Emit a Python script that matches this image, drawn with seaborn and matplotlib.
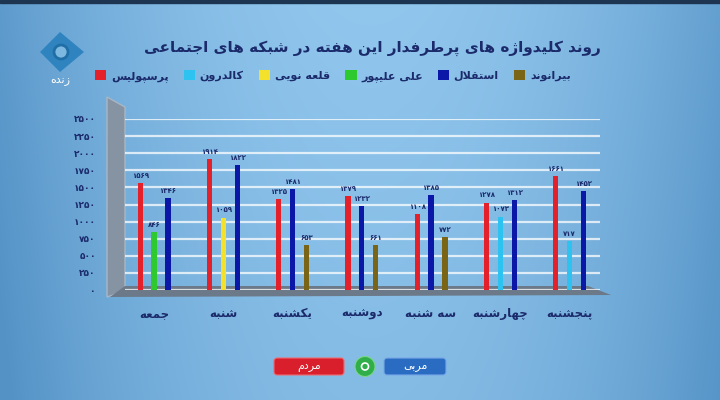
import matplotlib
matplotlib.use("Agg")
import matplotlib.pyplot as plt
from matplotlib.patches import Polygon, Rectangle, FancyBboxPatch, Circle, Patch
import numpy as np
import pandas as pd
import seaborn as sns

days = ["جمعه", "شنبه", "یکشنبه", "دوشنبه", "سه شنبه", "چهارشنبه", "پنجشنبه"]
series = ["پرسپولیس", "کالدرون", "قلعه نویی", "علی علیپور", "استقلال", "بیرانوند"]
persepolis = [1569, 1914, 1325, 1379, 1108, 1278, 1661]
kaldron = [np.nan, np.nan, np.nan, np.nan, np.nan, 1073, 717]
ghalehnoei = [np.nan, 1059, np.nan, np.nan, np.nan, np.nan, np.nan]
alipour = [846, np.nan, np.nan, np.nan, np.nan, np.nan, np.nan]
esteghlal = [1346, 1822, 1481, 1232, 1385, 1312, 1452]
beiranvand = [np.nan, np.nan, 653, 661, 772, np.nan, np.nan]
yticks = [0, 250, 500, 750, 1000, 1250, 1500, 1750, 2000, 2250, 2500]
title = "روند کلیدواژه های پرطرفدار این هفته در شبکه های اجتماعی"

colors = ["#e4212b", "#2cc3f0", "#f4e12c", "#2ec92e", "#0b17a6", "#7a6416"]
navy = "#1b2a6b"

# --- tiny persian shaper (matplotlib has no complex text layout) ---
FORMS = {
    "ا": ("\uFE8D", "\uFE8E", None, None), "آ": ("\uFE81", "\uFE82", None, None),
    "ب": ("\uFE8F", "\uFE90", "\uFE91", "\uFE92"), "پ": ("\uFB56", "\uFB57", "\uFB58", "\uFB59"),
    "ت": ("\uFE95", "\uFE96", "\uFE97", "\uFE98"), "ث": ("\uFE99", "\uFE9A", "\uFE9B", "\uFE9C"),
    "ج": ("\uFE9D", "\uFE9E", "\uFE9F", "\uFEA0"), "چ": ("\uFB7A", "\uFB7B", "\uFB7C", "\uFB7D"),
    "ح": ("\uFEA1", "\uFEA2", "\uFEA3", "\uFEA4"), "خ": ("\uFEA5", "\uFEA6", "\uFEA7", "\uFEA8"),
    "د": ("\uFEA9", "\uFEAA", None, None), "ذ": ("\uFEAB", "\uFEAC", None, None),
    "ر": ("\uFEAD", "\uFEAE", None, None), "ز": ("\uFEAF", "\uFEB0", None, None),
    "ژ": ("\uFB8A", "\uFB8B", None, None),
    "س": ("\uFEB1", "\uFEB2", "\uFEB3", "\uFEB4"), "ش": ("\uFEB5", "\uFEB6", "\uFEB7", "\uFEB8"),
    "ص": ("\uFEB9", "\uFEBA", "\uFEBB", "\uFEBC"), "ض": ("\uFEBD", "\uFEBE", "\uFEBF", "\uFEC0"),
    "ط": ("\uFEC1", "\uFEC2", "\uFEC3", "\uFEC4"), "ظ": ("\uFEC5", "\uFEC6", "\uFEC7", "\uFEC8"),
    "ع": ("\uFEC9", "\uFECA", "\uFECB", "\uFECC"), "غ": ("\uFECD", "\uFECE", "\uFECF", "\uFED0"),
    "ف": ("\uFED1", "\uFED2", "\uFED3", "\uFED4"), "ق": ("\uFED5", "\uFED6", "\uFED7", "\uFED8"),
    "ک": ("\uFB8E", "\uFB8F", "\uFB90", "\uFB91"), "گ": ("\uFB92", "\uFB93", "\uFB94", "\uFB95"),
    "ل": ("\uFEDD", "\uFEDE", "\uFEDF", "\uFEE0"), "م": ("\uFEE1", "\uFEE2", "\uFEE3", "\uFEE4"),
    "ن": ("\uFEE5", "\uFEE6", "\uFEE7", "\uFEE8"), "ه": ("\uFEE9", "\uFEEA", "\uFEEB", "\uFEEC"),
    "و": ("\uFEED", "\uFEEE", None, None), "ی": ("\uFBFC", "\uFBFD", "\uFBFE", "\uFBFF"),
}


def joins_next(c):
    return c in FORMS and FORMS[c][2] is not None


def fa(text):
    ch = list(text)
    out = []
    i = 0
    while i < len(ch):
        c = ch[i]
        if c not in FORMS:
            out.append(c)
            i += 1
            continue
        prev_join = i > 0 and joins_next(ch[i - 1])
        if c == "ل" and i + 1 < len(ch) and ch[i + 1] == "ا":
            out.append("\uFEFC" if prev_join else "\uFEFB")
            i += 2
            continue
        next_join = joins_next(c) and i + 1 < len(ch) and ch[i + 1] in FORMS
        iso, fin, ini, med = FORMS[c]
        if prev_join and next_join:
            out.append(med)
        elif prev_join:
            out.append(fin)
        elif next_join:
            out.append(ini)
        else:
            out.append(iso)
        i += 1
    return "".join(reversed(out))


def fa_num(n):
    return str(int(n)).translate(str.maketrans("0123456789", "۰۱۲۳۴۵۶۷۸۹"))


plt.rcParams["font.family"] = ["DejaVu Sans"]

# long table: only the bars that are shown, packed side by side per day
values = [persepolis, kaldron, ghalehnoei, alipour, esteghlal, beiranvand]
rows = []
for d in range(len(days)):
    present = [(s, v[d]) for s, v in zip(series, values) if not np.isnan(v[d])]
    for k, (s, val) in enumerate(present):
        rows.append({"pos": d + (k - (len(present) - 1) / 2) * 0.2, "value": val, "series": s})
df = pd.DataFrame(rows)

fig = plt.figure(figsize=(7.2, 4), dpi=100)

# background / decorations in pixel coords
bg = fig.add_axes([0, 0, 1, 1])
bg.set_xlim(0, 720)
bg.set_ylim(400, 0)
bg.axis("off")
yy, xx = np.mgrid[0:400, 0:720]
t = np.clip(0.75 * ((xx - 370) / 360) ** 2 + 0.2 * (yy / 400) + 0.05, 0, 1)[..., None]
light = np.array([148, 201, 239]) / 255
dark = np.array([84, 146, 198]) / 255
bg.imshow(light * (1 - t) + dark * t, extent=(0, 720, 400, 0), aspect="auto", zorder=0)
bg.add_patch(Rectangle((0, 0), 720, 3, color="#1d3550", zorder=1))

# 3d wall and floor
bg.add_patch(Polygon([(107, 97), (125, 107), (125, 291), (107, 297)], closed=True,
                     facecolor="#8593a3", edgecolor="#a9b6c4", lw=1, zorder=1))
bg.add_patch(Polygon([(110, 297), (125, 286), (588, 286), (611, 295), (110, 297)], closed=True,
                     facecolor="#6c7988", edgecolor="none", zorder=1))

# channel logo
bg.add_patch(Polygon([(60, 32), (84, 52), (60, 72), (40, 52)], closed=True, facecolor="#2f84c0",
                     edgecolor="none", zorder=2))
bg.add_patch(Circle((61, 52), 7, facecolor="#7db8e0", edgecolor="#1f6ea6", lw=2, zorder=3))
bg.text(60, 80, fa("زنده"), color="white", fontsize=8, ha="center", va="center", zorder=3)

# bottom logos
bg.add_patch(FancyBboxPatch((274, 358), 70, 17, boxstyle="round,pad=0,rounding_size=3",
                            facecolor="#d91f2b", edgecolor="#f06a70", lw=0.8, zorder=2))
bg.text(309, 366.5, fa("مردم"), color="white", fontsize=8, ha="center", va="center", zorder=3)
bg.add_patch(Circle((365, 366.5), 10, facecolor="#2fae4a", edgecolor="#7bd58a", lw=0.8, zorder=2))
bg.add_patch(Circle((365, 366.5), 3.5, facecolor="none", edgecolor="white", lw=1.2, zorder=3))
bg.add_patch(FancyBboxPatch((384, 358), 62, 17, boxstyle="round,pad=0,rounding_size=3",
                            facecolor="#2a6cc2", edgecolor="#78a8e6", lw=0.8, zorder=2))
bg.text(415, 366.5, fa("مربی"), color="white", fontsize=8, ha="center", va="center", zorder=3)

# title
bg.text(372, 48, fa(title), color=navy, fontsize=11, fontweight="bold", ha="center", va="center")

# main bar axes
ax = fig.add_axes([125 / 720, 1 - 290 / 400, 475 / 720, 171 / 400])
ax.set_zorder(5)
ax.patch.set_alpha(0)
sns.barplot(data=df, x="pos", y="value", hue="series", hue_order=series,
            palette=dict(zip(series, colors)), native_scale=True, dodge=False,
            width=0.38, saturation=1, errorbar=None, legend=False, ax=ax, zorder=3)

for c in ax.containers:
    ax.bar_label(c, labels=[fa_num(b.get_height()) for b in c], padding=3,
                 fontsize=5, color=navy, fontweight="bold")

ax.set_xlim(-0.42, 6.44)
ax.set_ylim(0, 2500)
ax.set_xticks(range(len(days)))
ax.set_xticklabels([fa(d) for d in days], fontsize=8.5, fontweight="bold", color=navy)
ax.set_yticks(yticks)
ax.set_yticklabels([fa_num(v) for v in yticks], fontsize=6.5, fontweight="bold", color=navy)
ax.tick_params(axis="x", length=0, pad=12)
ax.tick_params(axis="y", length=0, pad=21)
ax.yaxis.grid(True, color="white", lw=1.6, alpha=0.75, zorder=0)
ax.set_axisbelow(True)
ax.set_xlabel("")
ax.set_ylabel("")
for s in ax.spines.values():
    s.set_visible(False)

# legend in one row, square then label as on screen
handles = [Patch(facecolor=c, edgecolor="none") for c in colors]
fig.legend(handles, [fa(s) for s in series], ncol=6, loc="center",
           bbox_to_anchor=(333 / 720, 1 - 76 / 400), frameon=False,
           handlelength=1.0, handleheight=1.0, handletextpad=0.4, columnspacing=1.4,
           prop={"size": 8, "weight": "bold"}, labelcolor=navy)

fig.savefig("out.png", dpi=100)
